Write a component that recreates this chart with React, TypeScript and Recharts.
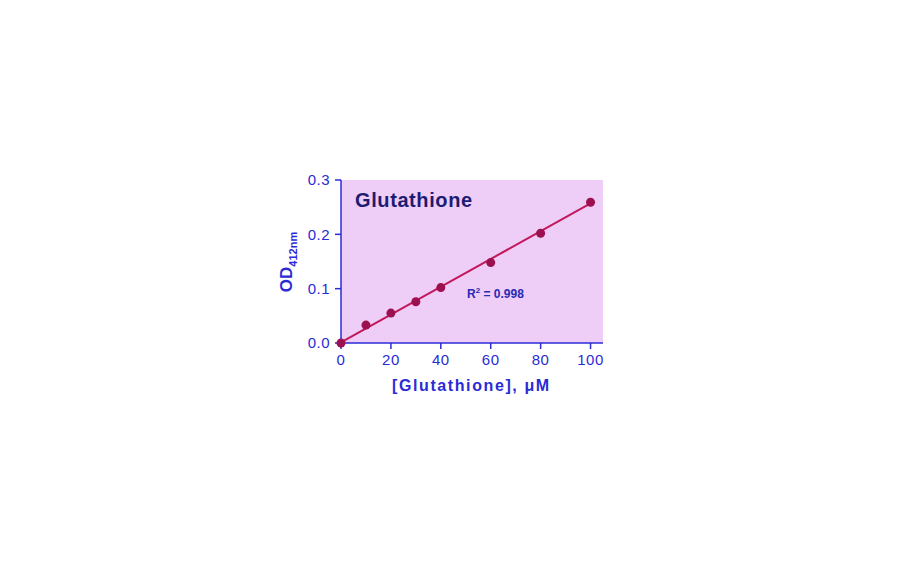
import { ComposedChart, Scatter, Line, XAxis, YAxis, CartesianGrid } from "recharts"

const concentrations = [0, 10, 20, 30, 40, 60, 80, 100]
const odValues = [0.0, 0.033, 0.055, 0.076, 0.102, 0.148, 0.202, 0.259]
const fitX = [0, 100]
const fitY = [0.001, 0.257]
const xTicks = [0, 20, 40, 60, 80, 100]
const yTicks = [0, 0.1, 0.2, 0.3]

const AXIS_BLUE = "#2b2bd6"
const FONT = "'Liberation Sans', Arial, sans-serif"

const points = concentrations.map((x, i) => ({ x, y: odValues[i] }))
const fit = fitX.map((x, i) => ({ x, y: fitY[i] }))

export default function App() {
  return (
    <div style={{ position: "absolute", left: 0, top: 0, width: 912, height: 562, background: "#fff", fontFamily: FONT }}>
      <ComposedChart width={912} height={562} margin={{ top: 180, right: 309, bottom: 189, left: 281 }}>
        <CartesianGrid horizontal={false} vertical={false} fill="#eecdf6" stroke="none" />
        <XAxis
          type="number"
          dataKey="x"
          domain={[0, 105]}
          ticks={xTicks}
          height={30}
          stroke={AXIS_BLUE}
          strokeWidth={1.5}
          tickSize={6}
          tickMargin={5}
          tick={{ fill: AXIS_BLUE, fontSize: 15, fontFamily: FONT, letterSpacing: 0.5 }}
        />
        <YAxis
          type="number"
          dataKey="y"
          domain={[0, 0.3]}
          ticks={yTicks}
          width={60}
          stroke={AXIS_BLUE}
          strokeWidth={1.5}
          tickSize={6}
          tickMargin={5}
          tickFormatter={(v: number) => v.toFixed(1)}
          tick={{ fill: AXIS_BLUE, fontSize: 15, fontFamily: FONT, letterSpacing: 0.5 }}
        />
        <Line data={fit} dataKey="y" type="linear" stroke="#c2185b" strokeWidth={2} dot={false} isAnimationActive={false} />
        <Scatter data={points} dataKey="y" fill="#9c1050" shape={(p: any) => <circle cx={p.cx} cy={p.cy} r={4.5} fill="#9c1050" />} isAnimationActive={false} />
      </ComposedChart>
      <div style={{ position: "absolute", left: 355, top: 189, fontSize: 20, fontWeight: "bold", color: "#1c1c72", letterSpacing: 0.6 }}>Glutathione</div>
      <div style={{ position: "absolute", left: 467, top: 287, fontSize: 12, fontWeight: "bold", color: "#2a2ab4", whiteSpace: "nowrap" }}>
        R<span style={{ fontSize: 8, position: "relative", top: -5 }}>2</span> = 0.998
      </div>
      <div style={{ position: "absolute", left: 392, top: 377, fontSize: 16, fontWeight: "bold", color: AXIS_BLUE, letterSpacing: 1.6, whiteSpace: "nowrap" }}>
        [Glutathione], μM
      </div>
      <div
        style={{
          position: "absolute",
          left: 288,
          top: 262,
          transform: "translate(-50%, -50%) rotate(-90deg)",
          fontSize: 17,
          fontWeight: "bold",
          color: AXIS_BLUE,
          whiteSpace: "nowrap",
        }}
      >
        OD<sub style={{ fontSize: 11 }}>412nm</sub>
      </div>
    </div>
  )
}
